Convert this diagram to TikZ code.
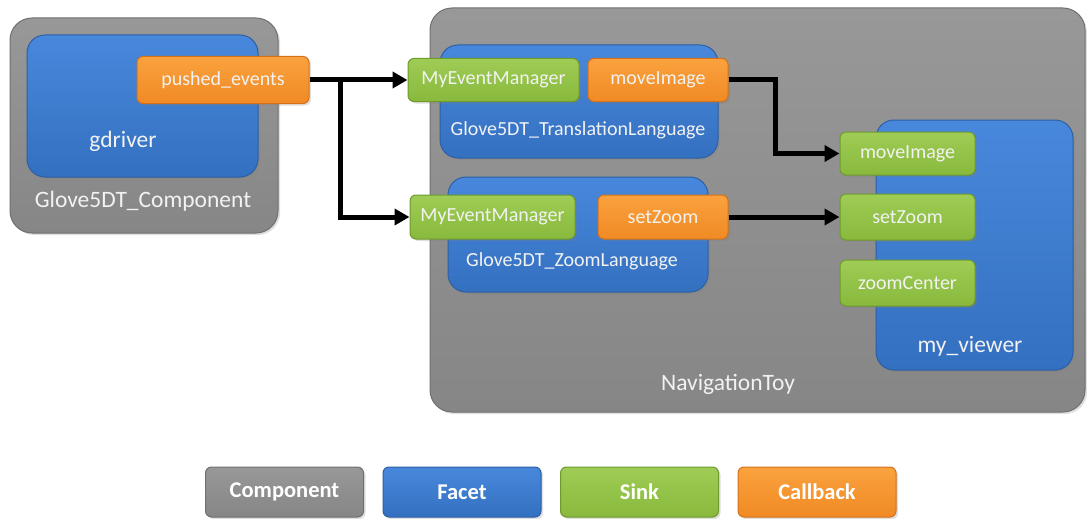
\documentclass[tikz,border=0pt]{standalone}
\usepackage{fontspec}
\setmainfont{Carlito}
\usetikzlibrary{positioning,arrows.meta,shadows}

\definecolor{cgray}{HTML}{868686}
\definecolor{cgrayt}{HTML}{989898}
\definecolor{cgrayd}{HTML}{707070}
\definecolor{cblue}{HTML}{3470C0}
\definecolor{cbluet}{HTML}{4888DC}
\definecolor{cblued}{HTML}{2C5FA4}
\definecolor{cgreen}{HTML}{88B93C}
\definecolor{cgreent}{HTML}{9FCC55}
\definecolor{cgreend}{HTML}{6F9A2C}
\definecolor{corange}{HTML}{F08A24}
\definecolor{coranget}{HTML}{FAA23E}
\definecolor{cornaged}{HTML}{D4711A}
\definecolor{ctext}{HTML}{F2F2F2}

\begin{document}
\begin{tikzpicture}[x=1pt, y=-1pt,
    box/.style={draw, line width=1pt, inner sep=0pt, drop shadow={opacity=0.25, shadow xshift=2pt, shadow yshift=-2pt}},
    comp/.style={box, draw=cgrayd, top color=cgrayt, bottom color=cgray, rounded corners=22pt},
    facet/.style={box, draw=cblued, top color=cbluet, bottom color=cblue, rounded corners=18pt},
    sink/.style={box, draw=cgreend, top color=cgreent, bottom color=cgreen, rounded corners=6pt, text=ctext, font=\fontsize{20}{23}\selectfont},
    callb/.style={box, draw=cornaged, top color=coranget, bottom color=corange, rounded corners=6pt, text=ctext, font=\fontsize{20}{23}\selectfont},
    big/.style={text=ctext, font=\fontsize{23.5}{27}\selectfont},
    small/.style={text=ctext, font=\fontsize{20}{23}\selectfont},
    legend/.style={rounded corners=6pt, text=white, font=\fontsize{22.5}{26}\selectfont\bfseries, minimum width=158pt, minimum height=50pt},
    conn/.style={draw=black, line width=5pt, -{Triangle[length=15pt,width=16pt]}}]
\useasboundingbox (0,0) rectangle (1087,519);

% Glove5DT component
\node[comp, minimum width=268pt, minimum height=215pt] (glove) at (144,125.5) {};
\node[facet, minimum width=231pt, minimum height=142pt] (gdriver) at (142.5,106) {};
\node[callb, minimum width=172pt, minimum height=47pt] (pushed) at (223,80) {pushed\_events};
\node[big] (gdriverlbl) at (123,141) {gdriver};
\node[big] (glovelbl) at (143,201) {Glove5DT\_Component};

% NavigationToy component
\node[comp, minimum width=655pt, minimum height=404pt] (nav) at (757.5,210) {};
\node[big] (navlbl) at (728,384) {NavigationToy};

\node[facet, minimum width=278pt, minimum height=113pt] (trans) at (579,101.5) {};
\node[sink, minimum width=171pt, minimum height=43pt] (mem1) at (493.5,80) {MyEventManager};
\node[callb, minimum width=140pt, minimum height=43pt] (move1) at (658,80) {moveImage};
\node[small] (translbl) at (578,130) {Glove5DT\_TranslationLanguage};

\node[facet, minimum width=260pt, minimum height=115pt] (zoom) at (578,234.5) {};
\node[sink, minimum width=165pt, minimum height=44pt] (mem2) at (492.5,217) {MyEventManager};
\node[callb, minimum width=130pt, minimum height=44pt] (setz1) at (663,217) {setZoom};
\node[small] (zoomlbl) at (572,261) {Glove5DT\_ZoomLanguage};

\node[facet, minimum width=197pt, minimum height=250pt] (viewer) at (974.5,245) {};
\node[sink, minimum width=135pt, minimum height=43pt] (move2) at (907.5,153.5) {moveImage};
\node[sink, minimum width=135pt, minimum height=46pt] (setz2) at (907.5,217) {setZoom};
\node[sink, minimum width=135pt, minimum height=46pt] (zcenter) at (907.5,283) {zoomCenter};
\node[big] (viewerlbl) at (970,346) {my\_viewer};

% connections
\coordinate (split) at (340,80);
\draw[conn] (pushed.east) -- (mem1.west);
\draw[conn] (split) |- (mem2.west);
\draw[conn] (move1.east) -- ++(47,0) |- (move2.west);
\draw[conn] (setz1.east) -- (setz2.west);

% legend
\node[legend, box, draw=cgrayd, top color=cgrayt, bottom color=cgray] (lcomp) at (284.5,492) {Component};
\node[legend, box, draw=cblued, top color=cbluet, bottom color=cblue] (lfacet) at (462,492) {Facet};
\node[legend, box, draw=cgreend, top color=cgreent, bottom color=cgreen] (lsink) at (639.5,492) {Sink};
\node[legend, box, draw=cornaged, top color=coranget, bottom color=corange] (lcall) at (817,492) {Callback};
\end{tikzpicture}
\end{document}
